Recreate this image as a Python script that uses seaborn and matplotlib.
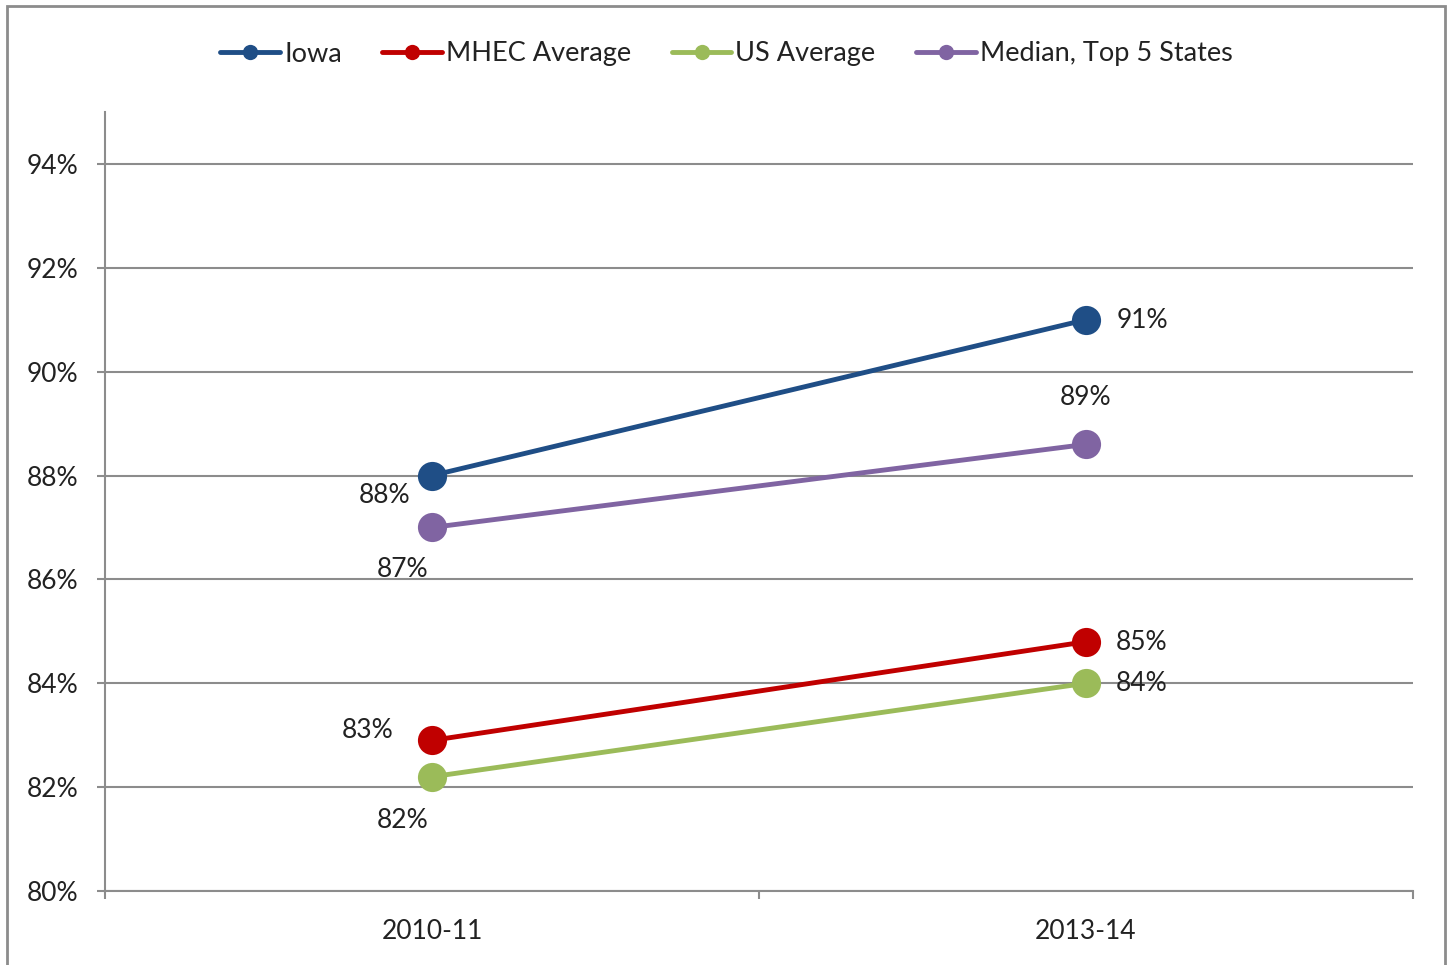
import matplotlib
matplotlib.use("Agg")
import matplotlib.pyplot as plt
import matplotlib.patches as mpatches
import seaborn as sns
import pandas as pd

years = ["2010-11", "2013-14"]
series_names = ["Iowa", "MHEC Average", "US Average", "Median, Top 5 States"]
iowa = [88.0, 91.0]
mhec = [82.9, 84.8]
us_avg = [82.2, 84.0]
median_top5 = [87.0, 88.6]
colors = ["#1F4E86", "#C00000", "#9BBB59", "#8064A2"]
yticks = [80, 82, 84, 86, 88, 90, 92, 94]

df = pd.DataFrame({
    "year": years * 4,
    "series": [s for s in series_names for _ in years],
    "value": iowa + mhec + us_avg + median_top5,
})

sns.set_style("white")
plt.rcParams["font.family"] = ["Lato", "DejaVu Sans"]

fig = plt.figure(figsize=(14.53, 9.65), dpi=100)
ax = fig.add_axes([105 / 1453, 1 - 891 / 965, (1413 - 105) / 1453, (891 - 112) / 965])

sns.lineplot(data=df, x="year", y="value", hue="series", palette=colors,
             hue_order=series_names, marker="o", markersize=21, linewidth=3.5,
             markeredgewidth=0, ax=ax, sort=False)

ax.set_xlim(-0.5, 1.5)
ax.set_ylim(80, 95)
ax.set_yticks(yticks)
ax.set_yticklabels([f"{t}%" for t in yticks], fontsize=19, color="#222222")
ax.yaxis.grid(True, color="#8c8c8c", linewidth=1.5)
ax.set_axisbelow(True)
ax.tick_params(axis="y", length=6, width=1.5, color="#8c8c8c", pad=13, left=True)

ax.set_xticks([-0.5, 0.5, 1.5])
ax.set_xticklabels([])
ax.set_xticks([0, 1], minor=True)
ax.set_xticklabels(years, minor=True, fontsize=19, color="#222222")
ax.tick_params(axis="x", which="major", length=6, width=1.5, color="#8c8c8c", bottom=True)
ax.tick_params(axis="x", which="minor", length=0, pad=20)
ax.set_xlabel("")
ax.set_ylabel("")

for side in ["top", "right"]:
    ax.spines[side].set_visible(False)
for side in ["left", "bottom"]:
    ax.spines[side].set_color("#8c8c8c")
    ax.spines[side].set_linewidth(1.5)

# data labels (offsets in pixels)
label_offsets = {
    "Iowa": [(-47, -20), (56, -1)],
    "MHEC Average": [(-64, 10), (56, -1)],
    "US Average": [(-29, -44), (56, 0)],
    "Median, Top 5 States": [(-29, -42), (0, 47)],
}
vals = {"Iowa": iowa, "MHEC Average": mhec, "US Average": us_avg,
        "Median, Top 5 States": median_top5}
for name in series_names:
    for i, v in enumerate(vals[name]):
        ax.annotate(f"{v:.0f}%", (i, v), xytext=label_offsets[name][i],
                    textcoords="offset pixels", ha="center", va="center",
                    fontsize=19, color="#222222")

handles, labels = ax.get_legend_handles_labels()
ax.legend_.remove()
for h in handles:
    h.set_markersize(11)
    h.set_linewidth(3.5)
fig.legend(handles, labels, loc="center", bbox_to_anchor=(0.5, 1 - 54 / 965),
           ncol=4, frameon=False, fontsize=19.5, handlelength=2.2,
           handletextpad=0.15, columnspacing=1.5, labelcolor="#222222")

fig.patches.append(mpatches.Rectangle((7 / 1453, -0.05), (1445 - 7) / 1453, 1.05 - 6 / 965,
                                      transform=fig.transFigure, fill=False,
                                      edgecolor="#8c8c8c", linewidth=2))

fig.savefig("out.png", dpi=100)
